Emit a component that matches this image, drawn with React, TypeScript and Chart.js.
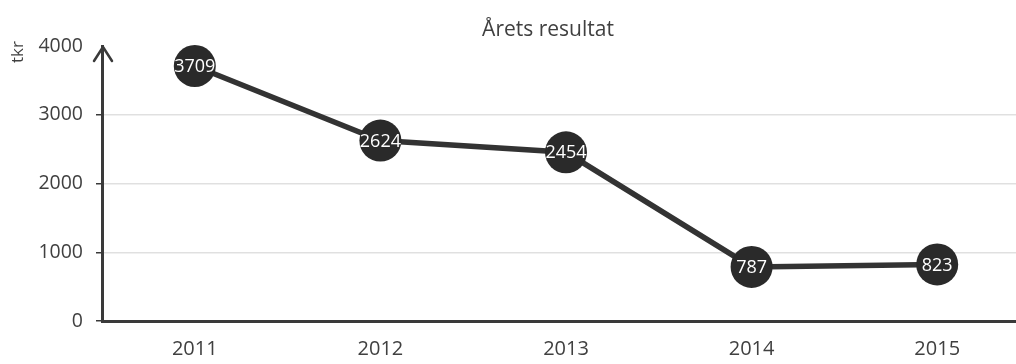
import React, { useEffect, useRef } from "react";
import { Chart, registerables } from "chart.js";

Chart.register(...registerables);

const chartTitle = "Årets resultat";
const yAxisLabel = "tkr";
const categories = ["2011", "2012", "2013", "2014", "2015"];
const values = [3709, 2624, 2454, 787, 823];
const yMin = 0;
const yMax = 4000;
const yStep = 1000;

const AXIS = "#3a3a3a";
const TEXT = "#404040";
const FONT = "'Open Sans', 'DejaVu Sans', sans-serif";

export default function App() {
  const ref = useRef<HTMLCanvasElement>(null);

  useEffect(() => {
    const canvas = ref.current!;
    const decor = {
      id: "decor",
      afterDatasetsDraw(chart: any) {
        const ctx = chart.ctx;
        const meta = chart.getDatasetMeta(0);
        ctx.save();
        ctx.fillStyle = "#ffffff";
        ctx.font = `18px ${FONT}`;
        ctx.textAlign = "center";
        ctx.textBaseline = "middle";
        meta.data.forEach((pt: any, i: number) => {
          ctx.fillText(String(values[i]), pt.x, pt.y + 1);
        });
        ctx.restore();
      },
      afterDraw(chart: any) {
        const ctx = chart.ctx;
        const { left, top } = chart.chartArea;
        ctx.save();
        // title
        ctx.fillStyle = TEXT;
        ctx.font = `21px ${FONT}`;
        ctx.textAlign = "center";
        ctx.textBaseline = "middle";
        ctx.fillText(chartTitle, 548, 30);
        // arrow head on y axis
        ctx.strokeStyle = AXIS;
        ctx.lineWidth = 2.5;
        ctx.lineCap = "round";
        ctx.lineJoin = "round";
        ctx.beginPath();
        ctx.moveTo(left - 8, top + 15);
        ctx.lineTo(left + 1, top + 1);
        ctx.lineTo(left + 10, top + 15);
        ctx.stroke();
        // y axis label
        ctx.translate(18, 52);
        ctx.rotate(-Math.PI / 2);
        ctx.fillStyle = TEXT;
        ctx.font = `17px ${FONT}`;
        ctx.fillText(yAxisLabel, 0, 0);
        ctx.restore();
      },
    };

    const chart = new Chart(canvas, {
      type: "line",
      data: {
        labels: categories,
        datasets: [
          {
            data: values,
            borderColor: "#333333",
            borderWidth: 5.5,
            pointRadius: 21,
            pointBackgroundColor: "#2a2a2a",
            pointBorderColor: "#2a2a2a",
            pointBorderWidth: 0,
            tension: 0,
            clip: false as any,
          },
        ],
      },
      options: {
        responsive: false,
        animation: false,
        layout: { autoPadding: false, padding: { top: 46, left: 0, right: 0, bottom: 0 } },
        plugins: {
          legend: { display: false },
          title: { display: false },
          tooltip: { enabled: false },
        },
        scales: {
          x: {
            offset: true,
            grid: { display: false, drawTicks: false },
            border: { display: true, color: AXIS, width: 3 },
            ticks: { color: TEXT, font: { family: FONT, size: 20 }, padding: 16 },
            afterFit: (s: any) => {
              s.height = 43;
            },
          },
          y: {
            min: yMin,
            max: yMax,
            ticks: {
              stepSize: yStep,
              color: TEXT,
              font: { family: FONT, size: 19.5 },
              padding: 13,
              callback: (v: any) => String(v),
            },
            grid: {
              color: (c: any) =>
                c.tick && c.tick.value > yMin && c.tick.value < yMax
                  ? "rgba(0,0,0,0.12)"
                  : "rgba(0,0,0,0)",
              tickColor: (c: any) =>
                c.tick && c.tick.value < yMax ? AXIS : "rgba(0,0,0,0)",
              tickLength: 6,
              lineWidth: 1.5,
            },
            border: { display: true, color: AXIS, width: 3 },
            afterFit: (s: any) => {
              s.width = 102;
            },
          },
        },
      },
      plugins: [decor],
    });
    return () => chart.destroy();
  }, []);

  return (
    <div
      style={{
        position: "fixed",
        left: 0,
        top: 0,
        width: 1016,
        height: 364,
        overflow: "hidden",
        background: "#ffffff",
      }}
    >
      <canvas ref={ref} width={1030} height={364} style={{ display: "block", width: 1030, height: 364 }} />
    </div>
  );
}
